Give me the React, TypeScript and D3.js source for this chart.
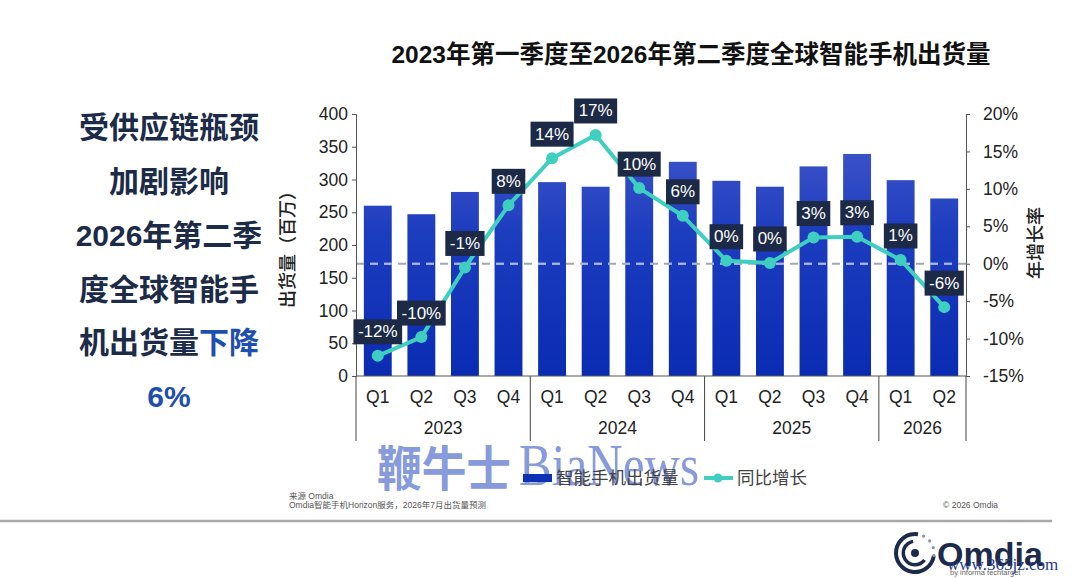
import React, { useEffect, useRef } from "react";
import * as d3 from "d3";

const quarters = ["Q1", "Q2", "Q3", "Q4", "Q1", "Q2", "Q3", "Q4", "Q1", "Q2", "Q3", "Q4", "Q1", "Q2"];
const years = ["2023", "2024", "2025", "2026"];
const yearQuarterCount = [4, 4, 4, 2];
const shipments = [260, 247, 281, 307, 296, 289, 309, 327, 298, 289, 320, 339, 299, 271];
const growth = [-12.3, -9.8, -0.5, 7.8, 14.1, 17.2, 10.1, 6.4, 0.4, 0.1, 3.5, 3.6, 0.5, -5.8];
const growthLabels = ["-12%", "-10%", "-1%", "8%", "14%", "17%", "10%", "6%", "0%", "0%", "3%", "3%", "1%", "-6%"];
const leftTicks = [0, 50, 100, 150, 200, 250, 300, 350, 400];
const rightTicks = [-15, -10, -5, 0, 5, 10, 15, 20];
const headline = ["受供应链瓶颈", "加剧影响", "2026年第二季", "度全球智能手"];

const SANS = "'Liberation Sans', Arial, 'Noto Sans CJK SC', sans-serif";

const App: React.FC = () => {
  const svgRef = useRef<SVGSVGElement | null>(null);

  useEffect(() => {
    const svg = d3.select(svgRef.current);
    svg.selectAll("*").remove();
    const W = 1080;
    const H = 578;
    svg.attr("width", W).attr("height", H).style("font-family", SANS);

    svg.append("rect").attr("width", W).attr("height", H).attr("fill", "#ffffff");

    const defs = svg.append("defs");
    const grad = defs
      .append("linearGradient")
      .attr("id", "barGrad")
      .attr("gradientUnits", "userSpaceOnUse")
      .attr("x1", 0)
      .attr("x2", 0)
      .attr("y1", 114)
      .attr("y2", 376);
    grad.append("stop").attr("offset", "0%").attr("stop-color", "#4a5ccb");
    grad.append("stop").attr("offset", "45%").attr("stop-color", "#1d3dbf");
    grad.append("stop").attr("offset", "100%").attr("stop-color", "#0a2cb3");

    const keys = quarters.map((q, i) => `${i}-${q}`);
    const x = d3.scaleBand().domain(keys).range([356, 966]).paddingInner(0.36).paddingOuter(0.18);
    const yL = d3.scaleLinear().domain([0, 400]).range([376, 114]);
    const yR = d3.scaleLinear().domain([-15, 20]).range([376, 114]);

    // Title
    svg
      .append("text")
      .attr("x", 691)
      .attr("y", 54)
      .attr("text-anchor", "middle")
      .attr("dominant-baseline", "central")
      .attr("font-size", 24.5)
      .attr("font-weight", "bold")
      .attr("fill", "#111")
      .text("2023年第一季度至2026年第二季度全球智能手机出货量");

    // Left headline
    const hl = svg.append("g").attr("font-size", 30).attr("font-weight", "bold").attr("text-anchor", "middle");
    const lineY = [127, 181, 235, 289, 342, 396];
    headline.forEach((t, i) => {
      hl.append("text").attr("x", 169).attr("y", lineY[i]).attr("dominant-baseline", "central").attr("fill", "#1b2b48").text(t);
    });
    const l5 = hl.append("text").attr("x", 169).attr("y", lineY[4]).attr("dominant-baseline", "central");
    l5.append("tspan").attr("fill", "#1b2b48").text("机出货量");
    l5.append("tspan").attr("fill", "#1f4fae").text("下降");
    hl.append("text").attr("x", 169).attr("y", lineY[5]).attr("dominant-baseline", "central").attr("fill", "#1f4fae").text("6%");

    // Bars
    const bars = svg.append("g");
    bars
      .selectAll("rect")
      .data(shipments)
      .join("rect")
      .attr("x", (_, i) => x(keys[i])!)
      .attr("y", (d) => yL(d))
      .attr("width", x.bandwidth())
      .attr("height", (d) => yL(0) - yL(d))
      .attr("fill", "url(#barGrad)");

    const clip = defs.append("clipPath").attr("id", "barClip");
    clip
      .selectAll("rect")
      .data(shipments)
      .join("rect")
      .attr("x", (_, i) => x(keys[i])!)
      .attr("y", (d) => yL(d))
      .attr("width", x.bandwidth())
      .attr("height", (d) => yL(0) - yL(d));

    // Zero dashed line
    svg
      .append("line")
      .attr("x1", 356)
      .attr("x2", 966)
      .attr("y1", yR(0))
      .attr("y2", yR(0))
      .attr("stroke", "#a3a6ad")
      .attr("stroke-width", 2)
      .attr("stroke-dasharray", "8,6");
    svg
      .append("line")
      .attr("x1", 356)
      .attr("x2", 966)
      .attr("y1", yR(0))
      .attr("y2", yR(0))
      .attr("clip-path", "url(#barClip)")
      .attr("stroke", "#a9b6ea")
      .attr("stroke-width", 2)
      .attr("stroke-dasharray", "8,6");

    // Left axis
    const axL = svg.append("g").attr("transform", "translate(356,0)").call(d3.axisLeft(yL).tickValues(leftTicks).tickSize(4).tickPadding(4));
    axL.select(".domain").attr("stroke", "#555");
    axL.selectAll(".tick line").attr("stroke", "#555");
    axL.selectAll("text").attr("font-size", 17.5).attr("font-family", SANS).attr("fill", "#222");

    // Right axis
    const axR = svg
      .append("g")
      .attr("transform", "translate(966,0)")
      .call(d3.axisRight(yR).tickValues(rightTicks).tickSize(4).tickPadding(13).tickFormat((d) => `${d}%`));
    axR.select(".domain").attr("stroke", "#555");
    axR.selectAll(".tick line").attr("stroke", "#555");
    axR.selectAll("text").attr("font-size", 17.5).attr("font-family", SANS).attr("fill", "#222");

    // Bottom axis line
    svg.append("line").attr("x1", 356).attr("x2", 966).attr("y1", 376).attr("y2", 376).attr("stroke", "#555").attr("stroke-width", 1.2);

    // Quarter labels
    svg
      .append("g")
      .selectAll("text")
      .data(quarters)
      .join("text")
      .attr("x", (_, i) => x(keys[i])! + x.bandwidth() / 2)
      .attr("y", 397)
      .attr("text-anchor", "middle")
      .attr("dominant-baseline", "central")
      .attr("font-size", 17.5)
      .attr("fill", "#222")
      .text((d) => d);

    // Year groups + separators
    let start = 0;
    const sepXs: number[] = [356];
    years.forEach((yr, gi) => {
      const n = yearQuarterCount[gi];
      const x0 = gi === 0 ? 356 : x(keys[start])! - (x.step() - x.bandwidth()) / 2;
      const endIdx = start + n - 1;
      const x1 = endIdx === keys.length - 1 ? 966 : x(keys[endIdx])! + x.bandwidth() + (x.step() - x.bandwidth()) / 2;
      sepXs.push(x1);
      svg
        .append("text")
        .attr("x", (x0 + x1) / 2)
        .attr("y", 428)
        .attr("text-anchor", "middle")
        .attr("dominant-baseline", "central")
        .attr("font-size", 17.5)
        .attr("fill", "#222")
        .text(yr);
      start += n;
    });
    svg
      .append("g")
      .selectAll("line")
      .data(sepXs)
      .join("line")
      .attr("x1", (d) => d)
      .attr("x2", (d) => d)
      .attr("y1", 376)
      .attr("y2", 441)
      .attr("stroke", "#444")
      .attr("stroke-width", 1);

    // Axis titles
    svg
      .append("text")
      .attr("transform", "translate(288,245) rotate(-90)")
      .attr("text-anchor", "middle")
      .attr("dominant-baseline", "central")
      .attr("font-size", 18)
      .attr("font-weight", 500)
      .attr("fill", "#222")
      .text("出货量（百万）");
    svg
      .append("text")
      .attr("transform", "translate(1036,243) rotate(-90)")
      .attr("text-anchor", "middle")
      .attr("dominant-baseline", "central")
      .attr("font-size", 18)
      .attr("font-weight", 500)
      .attr("fill", "#222")
      .text("年增长率");

    // Growth line
    const cx = (i: number) => x(keys[i])! + x.bandwidth() / 2;
    const line = d3
      .line<number>()
      .x((_, i) => cx(i))
      .y((d) => yR(d));
    svg.append("path").datum(growth).attr("d", line).attr("fill", "none").attr("stroke", "#3ecfc1").attr("stroke-width", 4).attr("stroke-linejoin", "round");
    svg
      .append("g")
      .selectAll("circle")
      .data(growth)
      .join("circle")
      .attr("cx", (_, i) => cx(i))
      .attr("cy", (d) => yR(d))
      .attr("r", 6)
      .attr("fill", "#3ecfc1");

    // Value labels
    const lg = svg.append("g");
    growth.forEach((d, i) => {
      const g = lg.append("g").attr("transform", `translate(${cx(i)},${yR(d) - 24})`);
      const r = g.append("rect").attr("fill", "#1c2a47");
      const t = g
        .append("text")
        .attr("text-anchor", "middle")
        .attr("dominant-baseline", "central")
        .attr("font-size", 17)
        .attr("fill", "#ffffff")
        .text(growthLabels[i]);
      const w = (t.node() as SVGTextElement).getComputedTextLength() + 9;
      r.attr("x", -w / 2).attr("y", -12.5).attr("width", w).attr("height", 25);
    });

    // Watermark
    const wm = svg.append("g").attr("fill", "#7189d6").attr("opacity", 0.85);
    wm.append("text")
      .attr("x", 377)
      .attr("y", 486)
      .attr("font-size", 48)
      .attr("font-weight", "bold")
      .attr("font-family", "'Noto Sans CJK SC', serif")
      .attr("textLength", 134)
      .attr("lengthAdjust", "spacingAndGlyphs")
      .text("鞭牛士");
    wm.append("text")
      .attr("x", 519)
      .attr("y", 485)
      .attr("font-size", 60)
      .attr("font-family", "'Liberation Serif', 'DejaVu Serif', serif")
      .attr("textLength", 180)
      .attr("lengthAdjust", "spacingAndGlyphs")
      .text("BiaNews");

    // Legend
    svg.append("rect").attr("x", 523).attr("y", 474).attr("width", 29).attr("height", 8).attr("fill", "#0e30b2");
    svg.append("text").attr("x", 556).attr("y", 478).attr("dominant-baseline", "central").attr("font-size", 17.5).attr("fill", "#444").text("智能手机出货量");
    svg.append("line").attr("x1", 704).attr("x2", 733).attr("y1", 478).attr("y2", 478).attr("stroke", "#3ecfc1").attr("stroke-width", 4);
    svg.append("circle").attr("cx", 718).attr("cy", 478).attr("r", 4.5).attr("fill", "#3ecfc1");
    svg.append("text").attr("x", 737).attr("y", 478).attr("dominant-baseline", "central").attr("font-size", 17.5).attr("fill", "#444").text("同比增长");

    // Footer
    svg.append("text").attr("x", 289).attr("y", 496).attr("dominant-baseline", "central").attr("font-size", 8.5).attr("fill", "#555").text("来源 Omdia");
    svg.append("text").attr("x", 289).attr("y", 505).attr("dominant-baseline", "central").attr("font-size", 8.5).attr("fill", "#555").text("Omdia智能手机Horizon服务，2026年7月出货量预测");
    svg.append("text").attr("x", 998).attr("y", 505).attr("text-anchor", "end").attr("dominant-baseline", "central").attr("font-size", 8.5).attr("fill", "#555").text("© 2026 Omdia");
    svg.append("line").attr("x1", 0).attr("x2", 1052).attr("y1", 521).attr("y2", 521).attr("stroke", "#a8a8a8").attr("stroke-width", 2.5);

    // Logo
    const logo = svg.append("g").attr("transform", "translate(915,553)");
    const arc = d3.arc<any>();
    logo.append("path").attr("d", arc({ innerRadius: 17, outerRadius: 21, startAngle: Math.PI * 0.55, endAngle: Math.PI * 2.05 })!).attr("fill", "#1c2b4c");
    logo.append("path").attr("d", arc({ innerRadius: 10, outerRadius: 13.5, startAngle: Math.PI * 0.7, endAngle: Math.PI * 1.95 })!).attr("fill", "#1c2b4c");
    logo.append("circle").attr("r", 4).attr("fill", "#1c2b4c");
    [0.15, 0.28, 0.41, 0.54].forEach((a) => {
      logo
        .append("circle")
        .attr("cx", Math.sin(a * Math.PI) * 19)
        .attr("cy", -Math.cos(a * Math.PI) * 19)
        .attr("r", 1.6)
        .attr("fill", "#8a93a8");
    });
    svg.append("text").attr("x", 937).attr("y", 566).attr("font-size", 34).attr("font-weight", "bold").attr("fill", "#1c2b4c").text("Omdia");
    svg.append("text").attr("x", 950).attr("y", 575).attr("font-size", 7.5).attr("fill", "#666").text("by informa techtarget");
    svg
      .append("text")
      .attr("x", 947)
      .attr("y", 570)
      .attr("font-size", 17)
      .attr("font-family", "'Liberation Serif', 'DejaVu Serif', serif")
      .attr("fill", "#27388a")
      .text("www.365jz.com");
  }, []);

  return (
    <div style={{ position: "absolute", left: 0, top: 0, width: 1080, height: 578 }}>
      <svg ref={svgRef} style={{ display: "block" }}></svg>
    </div>
  );
};

export default App;
